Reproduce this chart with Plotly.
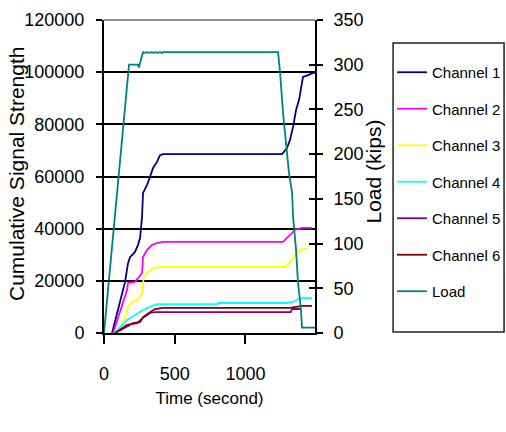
import plotly.graph_objects as go

# Acoustic emission: cumulative signal strength per channel vs. time, with applied load
ch1_t = [57, 113, 149, 170, 184, 219, 240, 255, 269, 276, 304, 325, 347, 375, 396, 417,
         1259, 1294, 1315, 1337, 1358, 1379, 1400, 1407, 1443, 1478, 1492]
ch1_v = [0, 11500, 19600, 26800, 29100, 31100, 33700, 36400, 44500, 53700, 56700, 59800,
         63300, 65600, 68200, 68600, 68600, 70900, 74000, 79000, 85500, 89300, 95900,
         98200, 98900, 99700, 99700]

ch2_t = [64, 127, 163, 170, 219, 269, 276, 304, 339, 375, 417, 1266, 1294, 1330, 1351, 1400, 1471]
ch2_v = [0, 10000, 16500, 19200, 19600, 23000, 29100, 31800, 33700, 34500, 34900, 34900,
         36400, 38300, 39500, 40300, 40300]

ch3_t = [78, 134, 170, 198, 240, 269, 276, 283, 311, 347, 396, 1280, 1315, 1351, 1386, 1443]
ch3_v = [0, 3800, 10000, 11900, 12700, 15300, 19200, 21500, 23400, 24900, 25300, 25300,
         27200, 29900, 31800, 32600]

ch4_t = [78, 163, 219, 276, 339, 382, 800, 810, 1301, 1337, 1372, 1407, 1471]
ch4_v = [0, 5000, 6900, 8800, 10400, 11100, 11100, 11500, 11500, 11900, 13000, 13400, 13400]

ch5_t = [78, 163, 233, 276, 325, 361, 1320, 1330, 1386]
ch5_v = [0, 3100, 3800, 5800, 7700, 8000, 8000, 9200, 9200]

ch6_t = [78, 149, 205, 255, 276, 325, 361, 420, 1315, 1358, 1400, 1471]
ch6_v = [0, 2300, 3800, 4200, 6100, 8000, 9200, 9600, 9600, 10000, 10400, 10400]

load_t = [0, 177, 240, 247, 262, 276, 290, 305, 320, 335, 350, 365, 380, 395, 410, 417,
          1231, 1245, 1266, 1287, 1308, 1330, 1337, 1358, 1372, 1393, 1400, 1492]
load_v = [0, 300, 300, 297, 306, 314, 313.2, 314, 313.2, 314, 313.2, 314, 313.2, 314, 313.2,
          314, 314, 291, 246, 208, 179, 157, 130, 93, 56, 26, 6, 6]

y_ticks = [0, 20000, 40000, 60000, 80000, 100000, 120000]
y_labels = ["0", "20000", "40000", "60000", "80000", "100000", "120000"]
load_ticks = [0, 50, 100, 150, 200, 250, 300, 350]
x_ticks = [0, 500, 1000]

channels = [
    ("Channel 1", ch1_t, ch1_v, "#000080"),
    ("Channel 2", ch2_t, ch2_v, "#FF00FF"),
    ("Channel 3", ch3_t, ch3_v, "#FFFF00"),
    ("Channel 4", ch4_t, ch4_v, "#00FFFF"),
    ("Channel 5", ch5_t, ch5_v, "#800080"),
    ("Channel 6", ch6_t, ch6_v, "#800000"),
]

FONT = "Liberation Sans, Arial, sans-serif"

fig = go.Figure()
for i, (name, t, v, c) in enumerate(channels):
    fig.add_trace(go.Scatter(x=t, y=v, mode="lines", name=name, legendgroup=f"g{i}",
                             line=dict(color=c, width=1.8)))
fig.add_trace(go.Scatter(x=load_t, y=load_v, mode="lines", name="Load", legendgroup="g6",
                         yaxis="y2", line=dict(color="#008080", width=1.8)))

tickfont = dict(family=FONT, size=18, color="black")
titlefont = dict(family=FONT, size=21, color="black")

fig.update_layout(
    width=506, height=432,
    margin=dict(l=104, r=191, t=20, b=99, autoexpand=False),
    paper_bgcolor="white", plot_bgcolor="white",
    showlegend=True,
    legend=dict(x=1.365, y=0.885, xanchor="left", yanchor="top",
                borderwidth=0, bgcolor="rgba(0,0,0,0)",
                font=dict(family=FONT, size=15, color="black"),
                tracegroupgap=14, itemwidth=30),
    xaxis=dict(range=[0, 1492], tickvals=x_ticks, ticks="outside", ticklen=9,
               tickwidth=2, tickcolor="black", showline=True, linecolor="black",
               linewidth=2, showgrid=False, zeroline=False, tickfont=tickfont,
               ticklabelstandoff=14, automargin=False,
               title=dict(text="Time (second)", font=dict(family=FONT, size=17, color="black"),
                          standoff=10)),
    yaxis=dict(range=[0, 120000], tickvals=y_ticks, ticktext=y_labels, ticks="outside",
               ticklen=6, tickwidth=2, tickcolor="black", showline=True, linecolor="black",
               linewidth=2, showgrid=True, gridcolor="black", gridwidth=2,
               zeroline=False, tickfont=tickfont, ticklabelstandoff=8, automargin=False),
    yaxis2=dict(range=[0, 350], tickvals=load_ticks, overlaying="y", side="right",
                anchor="x", ticks="outside", ticklen=6, tickwidth=2, tickcolor="black",
                showline=True, linecolor="black", linewidth=2, showgrid=False,
                zeroline=False, tickfont=tickfont, ticklabelstandoff=7, automargin=False),
    # inner halves of the crossing tick marks
    yaxis3=dict(range=[0, 120000], tickvals=y_ticks, overlaying="y", side="left",
                anchor="x", ticks="inside", ticklen=6, tickwidth=2, tickcolor="black",
                showticklabels=False, showline=False, showgrid=False, zeroline=False,
                automargin=False),
    yaxis4=dict(range=[0, 350], tickvals=load_ticks, overlaying="y", side="right",
                anchor="x", ticks="inside", ticklen=6, tickwidth=2, tickcolor="black",
                showticklabels=False, showline=False, showgrid=False, zeroline=False,
                automargin=False),
    shapes=[
        # grey top edge of the plot area
        dict(type="line", xref="paper", yref="paper", x0=0, x1=1, y0=1, y1=1,
             line=dict(color="#909090", width=2), layer="above"),
        # legend frame
        dict(type="rect", xref="paper", yref="paper", x0=1.370, x1=1.896,
             y0=0.003, y1=0.9265, line=dict(color="#222222", width=1.5),
             fillcolor="rgba(0,0,0,0)", layer="above"),
    ],
    annotations=[
        dict(text="Cumulative Signal Strength", xref="paper", yref="paper",
             x=-0.4123, y=0.508, xanchor="center", yanchor="middle", textangle=-90,
             showarrow=False, font=titlefont),
        dict(text="Load (kips)", xref="paper", yref="paper",
             x=1.2749, y=0.516, xanchor="center", yanchor="middle", textangle=-90,
             showarrow=False, font=titlefont),
    ],
)

# invisible anchors so the tick-only axes are rendered
fig.add_trace(go.Scatter(x=[0], y=[0], yaxis="y3", mode="markers", marker=dict(opacity=0),
                         showlegend=False, hoverinfo="skip"))
fig.add_trace(go.Scatter(x=[0], y=[0], yaxis="y4", mode="markers", marker=dict(opacity=0),
                         showlegend=False, hoverinfo="skip"))

fig.write_html("out.html")
